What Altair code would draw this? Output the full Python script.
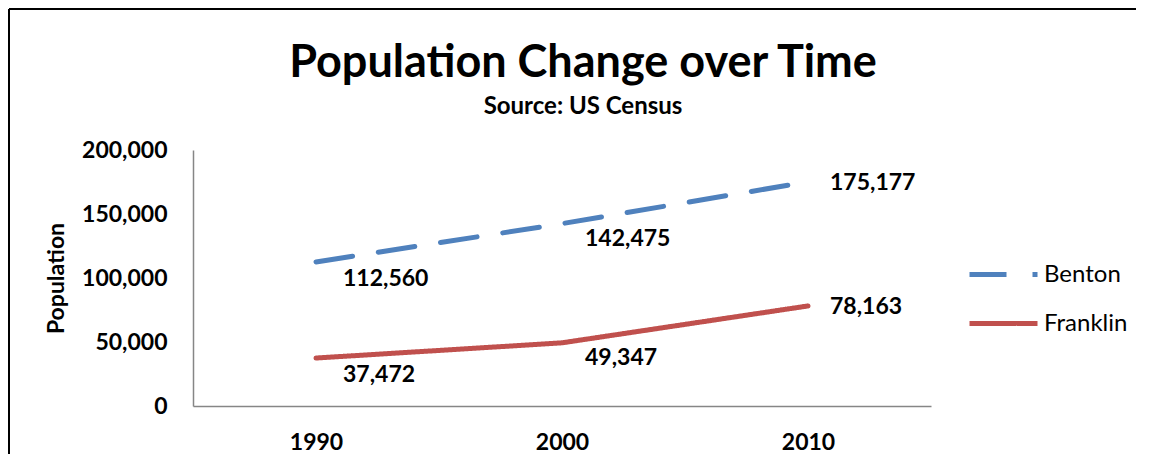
import altair as alt
import pandas as pd

# ---- data ----
years = ["1990", "2000", "2010"]
counties = ["Benton", "Franklin"]
benton = [112560, 142475, 175177]
franklin = [37472, 49347, 78163]
y_ticks = [0, 50000, 100000, 150000, 200000]
colors = ["#4F81BD", "#C0504D"]

rows = []
for c, vals in zip(counties, [benton, franklin]):
    for yr, v in zip(years, vals):
        rows.append({"county": c, "year": yr, "pop": v})
df = pd.DataFrame(rows)

FONT = "Lato"
W, H = 738, 256

x_enc = alt.X(
    "year:O",
    scale=alt.Scale(type="point", padding=0.5),
    axis=alt.Axis(
        title=None, labelAngle=0, labelFont=FONT, labelFontSize=23,
        labelFontWeight="bold", labelColor="black", labelPadding=25,
        ticks=False, tickSize=0, grid=False,
        domainColor="#868686", domainWidth=1.5,
    ),
)
y_enc = alt.Y(
    "pop:Q",
    scale=alt.Scale(domain=[0, 200000], nice=False),
    axis=alt.Axis(
        title="Population", values=y_ticks, format=",",
        labelExpr="format(datum.value, ',')", grid=False,
        ticks=False, tickSize=0, labelFont=FONT, labelFontSize=23,
        labelFontWeight="bold", labelColor="black", labelPadding=26,
        titleFont=FONT, titleFontSize=23, titleFontWeight="bold",
        titleColor="black", titlePadding=13,
        domainColor="#868686", domainWidth=1.5,
    ),
)

base = alt.Chart(df)

lines = base.mark_line(strokeWidth=5, strokeCap="round").encode(
    x=x_enc,
    y=y_enc,
    color=alt.Color(
        "county:N",
        scale=alt.Scale(domain=counties, range=colors),
        legend=alt.Legend(
            title=None, orient="none", legendX=774, legendY=88,
            symbolType="stroke", symbolSize=4624, symbolStrokeWidth=5,
            labelFont=FONT, labelFontSize=24, labelColor="black",
            rowPadding=-19, labelOffset=4,
        ),
    ),
    strokeDash=alt.StrokeDash(
        "county:N",
        scale=alt.Scale(domain=counties, range=[[37, 26], [1, 0]]),
        legend=alt.Legend(title=None),
    ),
)

label_layers = []
for yr, dx, dy in [("1990", 27, 17), ("2000", 23, 15), ("2010", 22, 1)]:
    label_layers.append(
        base.transform_filter(alt.datum.year == yr)
        .mark_text(align="left", baseline="middle", dx=dx, dy=dy,
                   font=FONT, fontSize=23, fontWeight="bold", color="black")
        .encode(x=x_enc, y=y_enc, text=alt.Text("pop:Q", format=","))
    )

frame_df = pd.DataFrame({"a": [0]})
top_border = alt.Chart(frame_df).mark_rule(color="black", strokeWidth=2).encode(
    x=alt.value(-184), x2=alt.value(943), y=alt.value(-141)
)
left_border = alt.Chart(frame_df).mark_rule(color="black", strokeWidth=2).encode(
    x=alt.value(-184), y=alt.value(-141), y2=alt.value(340)
)

chart = (
    alt.layer(lines, *label_layers, top_border, left_border)
    .properties(
        width=W, height=H,
        view=alt.ViewBackground(strokeWidth=0, stroke="transparent"),
        title=alt.TitleParams(
            text="Population Change over Time",
            subtitle="Source: US Census",
            font=FONT, fontSize=45, fontWeight="bold", color="black",
            subtitleFont=FONT, subtitleFontSize=24, subtitleFontWeight="bold",
            subtitleColor="black", subtitlePadding=9,
            anchor="middle", frame="group", dx=21, offset=-111,
        ),
        autosize=alt.AutoSizeParams(type="none"),
        padding={"left": 185, "top": 142, "right": 205, "bottom": 48},
    )
    .configure_view(strokeWidth=0, stroke="transparent")
    .configure(background="white")
)

chart.save("out.html", embed_options={"renderer": "svg", "actions": False})
